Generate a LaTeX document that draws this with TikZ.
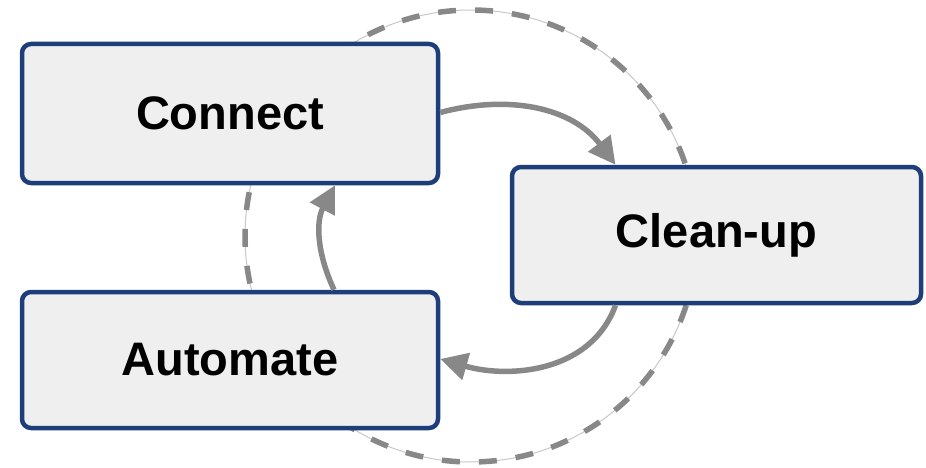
\documentclass[tikz,border=0pt]{standalone}
\usepackage{fontspec}
\setmainfont{Liberation Sans}
\usetikzlibrary{arrows.meta}
\definecolor{boxblue}{RGB}{30,62,122}
\definecolor{boxfill}{RGB}{239,239,239}
\definecolor{arrowgray}{RGB}{136,136,136}
\definecolor{ringgray}{RGB}{200,200,200}
\begin{document}
\begin{tikzpicture}[
x=1pt, y=1pt,
stage/.style={rectangle, draw=boxblue, fill=boxfill, line width=4.5pt, rounded corners=9pt,
  font=\fontsize{47}{50}\selectfont\bfseries},
flow/.style={draw=arrowgray, line width=5.5pt, -{Triangle[length=27pt, width=27pt]}},
]
\useasboundingbox (0,0) rectangle (926,-468);
% cycle ring behind the boxes
\draw[ringgray, line width=1pt] (471,-236) circle (226);
\draw[arrowgray, line width=5.5pt, dash pattern=on 18pt off 19pt] (471,-236) circle (226);
\node[stage, minimum width=416pt, minimum height=139pt] (connect) at (230,-113.5) {Connect};
\node[stage, minimum width=409pt, minimum height=136pt] (cleanup) at (716.5,-235) {Clean-up};
\node[stage, minimum width=416pt, minimum height=136pt] (automate) at (230,-360) {Automate};
\draw[flow] ([yshift=1pt]connect.east) to[out=15, in=127] ([xshift=-101pt]cleanup.north);
\draw[flow] ([xshift=-101pt]cleanup.south) to[out=250, in=-16] ([yshift=1pt]automate.east);
\draw[flow] ([xshift=104pt]automate.north) to[out=115, in=242] ([xshift=105pt]connect.south);
\end{tikzpicture}
\end{document}
